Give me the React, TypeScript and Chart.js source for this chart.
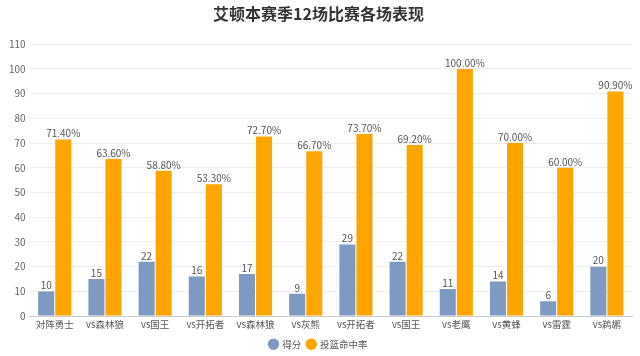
import React, { useEffect, useRef } from "react";
import { Chart, registerables } from "chart.js";

Chart.register(...registerables);

const categories = ["对阵勇士", "vs森林狼", "vs国王", "vs开拓者", "vs森林狼", "vs灰熊", "vs开拓者", "vs国王", "vs老鹰", "vs黄蜂", "vs雷霆", "vs鹈鹕"];
const points = [10, 15, 22, 16, 17, 9, 29, 22, 11, 14, 6, 20];
const fgPct = [71.4, 63.6, 58.8, 53.3, 72.7, 66.7, 73.7, 69.2, 100, 70, 60, 90.9];
const seriesNames = ["得分", "投篮命中率"];
const yTicks = { min: 0, max: 110, step: 10 };

const FONT = "'Noto Sans CJK SC', 'Noto Sans', sans-serif";

const labelPlugin = {
  id: "barLabels",
  afterDatasetsDraw(chart: any) {
    const ctx = chart.ctx;
    ctx.save();
    ctx.font = `10px ${FONT}`;
    ctx.fillStyle = "#555";
    ctx.textAlign = "center";
    ctx.textBaseline = "bottom";
    chart.data.datasets.forEach((ds: any, di: number) => {
      const meta = chart.getDatasetMeta(di);
      meta.data.forEach((bar: any, i: number) => {
        const v = ds.data[i];
        const txt = di === 1 ? v.toFixed(2) + "%" : String(v);
        ctx.fillText(txt, bar.x, bar.y - 1);
      });
    });
    ctx.restore();
  },
};

export default function App() {
  const ref = useRef<HTMLCanvasElement | null>(null);
  useEffect(() => {
    if (!ref.current) return;
    const chart = new Chart(ref.current, {
      type: "bar",
      data: {
        labels: categories,
        datasets: [
          {
            label: seriesNames[0],
            data: points,
            backgroundColor: "#7F9AC2",
            borderWidth: 0,
          },
          {
            label: seriesNames[1],
            data: fgPct,
            backgroundColor: "#FFA500",
            borderWidth: 0,
          },
        ],
      },
      options: {
        responsive: true,
        maintainAspectRatio: false,
        animation: false,
        datasets: {
          bar: { categoryPercentage: 0.68, barPercentage: 0.94 },
        },
        layout: { padding: { left: 5, right: 8, top: 4, bottom: -3 } },
        plugins: {
          title: {
            display: true,
            text: "艾顿本赛季12场比赛各场表现",
            color: "#333",
            font: { family: FONT, size: 16, weight: "bold" },
            padding: { top: 0, bottom: 21 },
          },
          legend: {
            position: "bottom",
            labels: {
              usePointStyle: true,
              pointStyle: "circle",
              boxWidth: 8,
              boxHeight: 8,
              color: "#555",
              font: { family: FONT, size: 9.5 },
              padding: 6,
            },
          },
          tooltip: { enabled: false },
        },
        scales: {
          x: {
            grid: { display: false, drawTicks: false },
            border: { color: "#ccc" },
            ticks: { color: "#555", font: { family: FONT, size: 9.5 }, maxRotation: 0, autoSkip: false, padding: 3 },
          },
          y: {
            min: yTicks.min,
            max: yTicks.max,
            ticks: { stepSize: yTicks.step, color: "#666", font: { family: FONT, size: 10 }, padding: 4 },
            grid: { color: "#eeeeee", drawTicks: false },
            border: { display: false },
          },
        },
      },
      plugins: [labelPlugin],
    });
    return () => chart.destroy();
  }, []);
  return (
    <div style={{ position: "absolute", left: 0, top: 0, width: 640, height: 356 }}>
      <canvas ref={ref} />
    </div>
  );
}
